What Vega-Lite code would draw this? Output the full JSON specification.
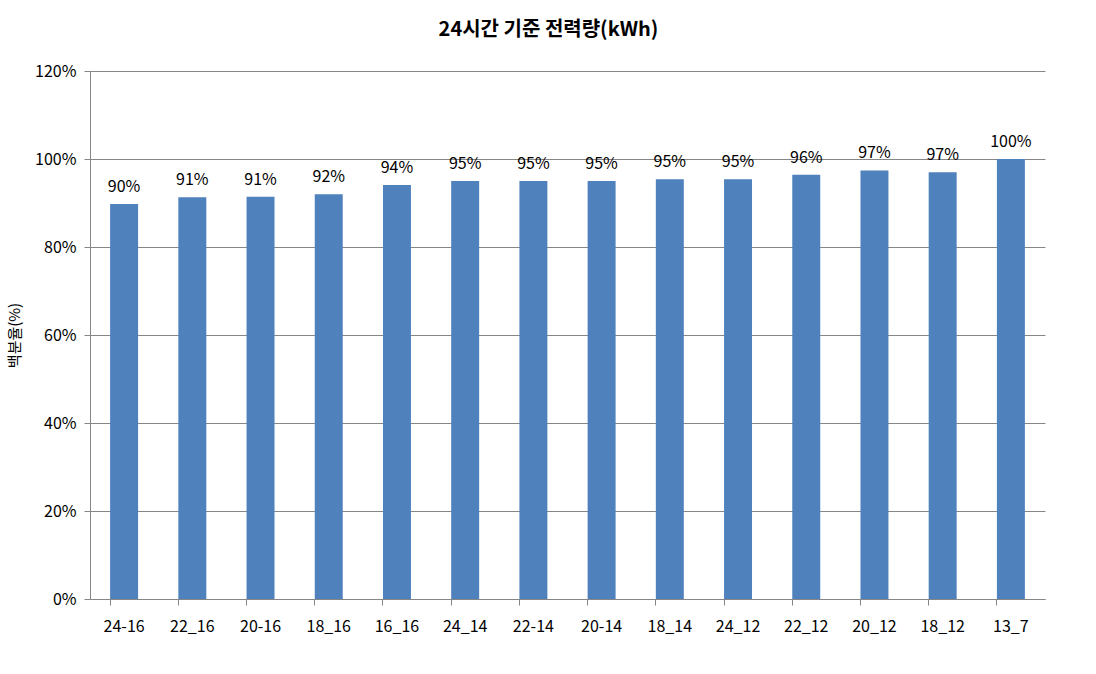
{
  "$schema": "https://vega.github.io/schema/vega-lite/v6.json",
  "autosize": "none",
  "width": 955,
  "height": 528,
  "padding": {"left": 90, "top": 71, "right": 51, "bottom": 75},
  "background": "white",
  "title": {
    "text": "24시간 기준 전력량(kWh)",
    "font": "Noto Sans CJK KR",
    "fontSize": 20,
    "fontWeight": "bold",
    "color": "#000000",
    "anchor": "middle",
    "frame": "group",
    "dx": -19,
    "offset": 23
  },
  "config": {
    "view": {"stroke": null},
    "axis": {"labelFont": "Noto Sans CJK KR", "titleFont": "Noto Sans CJK KR"}
  },
  "data": {
    "values": [
      {"case": "24-16", "value": 0.898},
      {"case": "22_16", "value": 0.913},
      {"case": "20-16", "value": 0.914},
      {"case": "18_16", "value": 0.920},
      {"case": "16_16", "value": 0.941},
      {"case": "24_14", "value": 0.950},
      {"case": "22-14", "value": 0.950},
      {"case": "20-14", "value": 0.950},
      {"case": "18_14", "value": 0.954},
      {"case": "24_12", "value": 0.954},
      {"case": "22_12", "value": 0.964},
      {"case": "20_12", "value": 0.974},
      {"case": "18_12", "value": 0.970},
      {"case": "13_7", "value": 1.0}
    ]
  },
  "encoding": {
    "x": {
      "field": "case",
      "type": "nominal",
      "sort": null,
      "scale": {"paddingInner": 0.59, "paddingOuter": 0.295},
      "axis": {
        "title": null,
        "labelAngle": 0,
        "labelFontSize": 16,
        "labelColor": "#000000",
        "labelPadding": 13,
        "bandPosition": 0,
        "tickSize": 6,
        "tickColor": "#868686",
        "domainColor": "#868686",
        "grid": false
      }
    },
    "y": {
      "field": "value",
      "type": "quantitative",
      "scale": {"domain": [0, 1.2], "nice": false},
      "axis": {
        "title": "백분율(%)",
        "titleFontSize": 15,
        "titleFontWeight": "normal",
        "titleColor": "#000000",
        "titlePadding": 12,
        "values": [0, 0.2, 0.4, 0.6, 0.8, 1.0, 1.2],
        "format": ".0%",
        "labelFontSize": 16,
        "labelColor": "#000000",
        "labelPadding": 8,
        "tickSize": 6,
        "tickColor": "#868686",
        "domainColor": "#868686",
        "gridColor": "#868686",
        "gridWidth": 1
      }
    }
  },
  "layer": [
    {"mark": {"type": "bar", "color": "#4F81BD"}},
    {
      "mark": {
        "type": "text",
        "baseline": "bottom",
        "dy": -9,
        "font": "Noto Sans CJK KR",
        "fontSize": 16,
        "color": "#000000"
      },
      "encoding": {"text": {"field": "value", "type": "quantitative", "format": ".0%"}}
    }
  ]
}
